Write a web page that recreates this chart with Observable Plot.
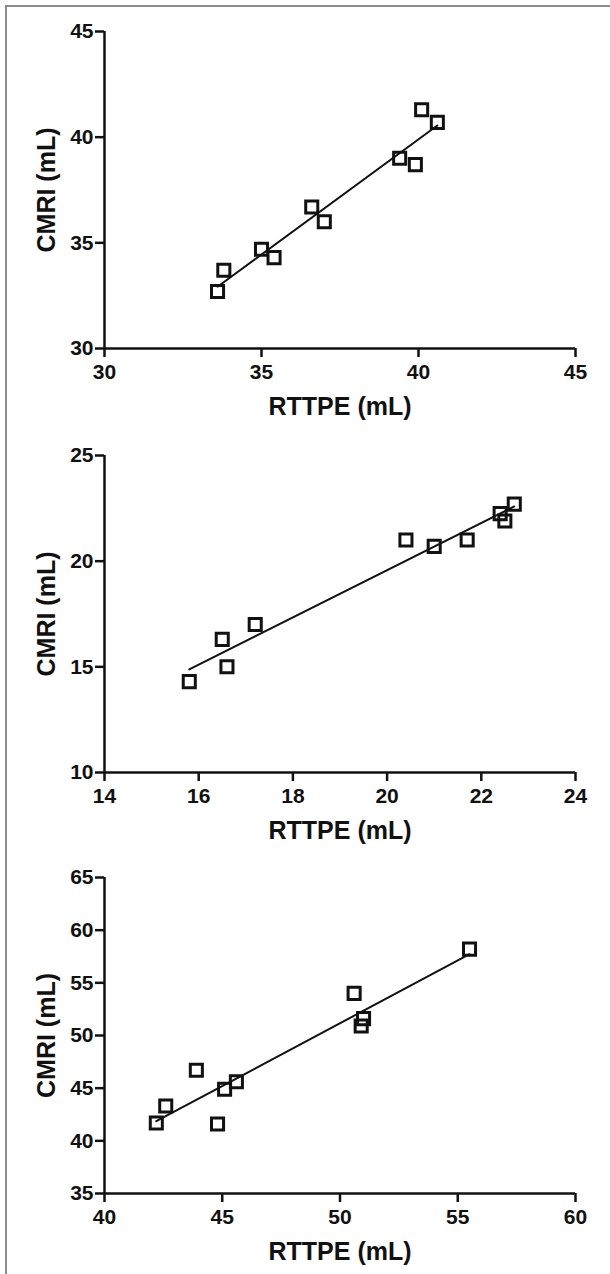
<!DOCTYPE html>
<html><head><meta charset="utf-8">
<script src="https://cdn.jsdelivr.net/npm/d3@7"></script>
<script src="https://cdn.jsdelivr.net/npm/@observablehq/plot@0.6"></script>
<style>
body{margin:0;background:#fff}
#wrap{position:relative;width:610px;height:1274px;overflow:hidden;background:#fff}
#frame{position:absolute;left:5px;top:5px;right:-5px;bottom:-5px;border-top:2px solid #8c8c8c;border-left:2px solid #8c8c8c}
.panel{position:absolute;left:0}
</style></head><body>
<div id="wrap"><div id="frame"></div></div>
<script>
const xLabel = "RTTPE (mL)";
const yLabel = "CMRI (mL)";

// Panel 1
const rttpe1 = [33.6, 33.8, 35.0, 35.4, 36.6, 37.0, 39.4, 39.9, 40.1, 40.6];
const cmri1  = [32.7, 33.7, 34.7, 34.3, 36.7, 36.0, 39.0, 38.7, 41.3, 40.7];
const xTicks1 = [30, 35, 40, 45];
const yTicks1 = [30, 35, 40, 45];

// Panel 2
const rttpe2 = [15.8, 16.5, 16.6, 17.2, 20.4, 21.0, 21.7, 22.4, 22.5, 22.7];
const cmri2  = [14.3, 16.3, 15.0, 17.0, 21.0, 20.7, 21.0, 22.25, 21.9, 22.7];
const xTicks2 = [14, 16, 18, 20, 22, 24];
const yTicks2 = [10, 15, 20, 25];

// Panel 3
const rttpe3 = [42.2, 42.6, 43.9, 44.8, 45.1, 45.6, 50.6, 50.9, 51.0, 55.5];
const cmri3  = [41.7, 43.3, 46.7, 41.6, 44.9, 45.6, 54.0, 50.9, 51.6, 58.2];
const xTicks3 = [40, 45, 50, 55, 60];
const yTicks3 = [35, 40, 45, 50, 55, 60, 65];

const ink = "#111";

function panel(xs, ys, xTicks, yTicks, top, height, marginTop, marginBottom) {
  const data = xs.map((x, i) => ({x, y: ys[i]}));
  const xd = [xTicks[0], xTicks[xTicks.length - 1]];
  const yd = [yTicks[0], yTicks[yTicks.length - 1]];
  const svg = Plot.plot({
    width: 610, height, marginTop, marginBottom, marginLeft: 104, marginRight: 35,
    style: {fontFamily: "'Liberation Sans', Arial, sans-serif", fontSize: "21px", fontWeight: "bold", color: ink, background: "transparent", overflow: "visible"},
    x: {domain: xd},
    y: {domain: yd},
    marks: [
      Plot.ruleX([xd[0]], {stroke: ink, strokeWidth: 2.5}),
      Plot.ruleY([yd[0]], {stroke: ink, strokeWidth: 2.5}),
      Plot.axisX({ticks: xTicks, tickSize: 9, tickPadding: 7, strokeWidth: 2.5, fontSize: 21, label: null, tickFormat: d => String(d)}),
      Plot.axisY({ticks: yTicks, tickSize: 9, tickPadding: 2, strokeWidth: 2.5, fontSize: 21, label: null, tickFormat: d => String(d)}),
      Plot.linearRegressionY(data, {x: "x", y: "y", ci: 0, stroke: ink, strokeWidth: 2}),
      Plot.dot(data, {x: "x", y: "y", symbol: "square", r: 6.8, stroke: ink, strokeWidth: 3, fill: "none"}),
      Plot.text([xLabel], {text: d => d, frameAnchor: "bottom", dy: 58, textAnchor: "middle", lineAnchor: "middle", fontSize: 25, fill: ink}),
      Plot.text([yLabel], {text: d => d, frameAnchor: "left", dx: -58, rotate: -90, textAnchor: "middle", lineAnchor: "middle", fontSize: 25, fill: ink})
    ]
  });
  svg.classList.add("panel");
  svg.style.position = "absolute";
  svg.style.top = top + "px";
  svg.style.left = "0px";
  document.getElementById("wrap").appendChild(svg);
}

panel(rttpe1, cmri1, xTicks1, yTicks1, 0, 420, 31, 72);
panel(rttpe2, cmri2, xTicks2, yTicks2, 420, 430, 35, 78);
panel(rttpe3, cmri3, xTicks3, yTicks3, 850, 424, 27, 81);
</script>
</body></html>
